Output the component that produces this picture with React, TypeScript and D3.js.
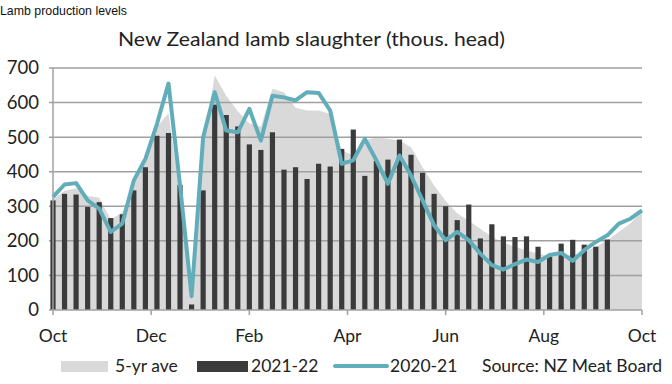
import React, { useEffect, useRef } from "react";
import * as d3 from "d3";

// weekly points, Oct to Oct (52 weeks)
const months = ["Oct", "Dec", "Feb", "Apr", "Jun", "Aug", "Oct"];
const yTicks = [0, 100, 200, 300, 400, 500, 600, 700];

const avg5yr = [
  320, 345, 352, 330, 325, 262, 282, 365, 433, 529, 570, 330, 40, 480, 678, 620,
  575, 540, 530, 640, 630, 585, 577, 577, 567, 462, 447, 490, 500, 495, 490, 471,
  413, 360, 315, 280, 258, 235, 212, 195, 183, 173, 163, 155, 158, 160, 168, 183,
  202, 226, 250, 288,
];

const s2021_22 = [
  317, 336, 334, 298, 312, 266, 277, 346, 413, 504, 512, 362, 16, 346, 594, 564,
  531, 479, 463, 514, 406, 413, 379, 423, 415, 466, 522, 388, 431, 435, 493, 449,
  397, 336, 300, 260, 305, 207, 248, 213, 211, 213, 183, 154, 192, 203, 189, 183,
  204,
];

const s2020_21 = [
  327, 363, 367, 317, 293, 226, 250, 375, 437, 538, 655, 360, 40, 500, 630, 519,
  514, 582, 490, 620, 615, 606, 630, 628, 577, 423, 433, 495, 433, 365, 447, 389,
  317, 245, 202, 226, 202, 163, 130, 117, 133, 146, 139, 159, 165, 142, 173, 197,
  216, 250, 264, 288,
];

const font = "Lato, 'Open Sans', sans-serif";

const App: React.FC = () => {
  const ref = useRef<SVGSVGElement>(null);

  useEffect(() => {
    const width = 672, height = 384;
    const left = 53, right = 642, top = 68, bottom = 310;

    const x = d3.scaleLinear().domain([0, avg5yr.length - 1]).range([left, right]);
    const y = d3.scaleLinear().domain([0, 700]).range([bottom, top]);
    const xm = d3.scalePoint().domain(months.map((m, i) => i + m)).range([left, right]);

    const svg = d3.select(ref.current)
      .attr("width", width)
      .attr("height", height)
      .attr("viewBox", `0 0 ${width} ${height}`);
    svg.selectAll("*").remove();

    svg.append("rect").attr("width", width).attr("height", height).attr("fill", "#fff");

    svg.append("text")
      .attr("x", 0).attr("y", 15)
      .attr("font-family", "'Liberation Sans', Arial, sans-serif")
      .attr("font-size", 13.5)
      .attr("textLength", 127).attr("lengthAdjust", "spacingAndGlyphs")
      .attr("fill", "#111")
      .text("Lamb production levels");

    svg.append("text")
      .attr("x", 118).attr("y", 46)
      .attr("font-family", font)
      .attr("font-size", 20)
      .attr("textLength", 387).attr("lengthAdjust", "spacingAndGlyphs")
      .attr("fill", "#222")
      .text("New Zealand lamb slaughter (thous. head)");

    // 5-yr average area
    const area = d3.area<number>()
      .x((d, i) => x(i))
      .y0(y(0))
      .y1(d => y(d));
    svg.append("path")
      .datum(avg5yr)
      .attr("d", area)
      .attr("fill", "#d9d9d9");

    // gridlines
    svg.append("g")
      .selectAll("line")
      .data(yTicks.filter(t => t > 0))
      .enter().append("line")
      .attr("x1", left - 4).attr("x2", right)
      .attr("y1", d => y(d)).attr("y2", d => y(d))
      .attr("stroke", "#a0a0a0")
      .attr("stroke-width", 1.5);

    // 2021-22 bars
    svg.append("g")
      .selectAll("rect")
      .data(s2021_22)
      .enter().append("rect")
      .attr("x", (d, i) => x(i) - 2.6)
      .attr("width", 5.2)
      .attr("y", d => y(d))
      .attr("height", d => y(0) - y(d))
      .attr("fill", "#3b3b3b");

    // 2020-21 line
    const line = d3.line<number>().x((d, i) => x(i)).y(d => y(d));
    svg.append("path")
      .datum(s2020_21)
      .attr("d", line)
      .attr("fill", "none")
      .attr("stroke", "#62adba")
      .attr("stroke-width", 4)
      .attr("stroke-linejoin", "round");

    // axes
    svg.append("line")
      .attr("x1", left).attr("x2", left).attr("y1", top).attr("y2", bottom)
      .attr("stroke", "#a0a0a0").attr("stroke-width", 1.5);
    svg.append("line")
      .attr("x1", left - 4).attr("x2", right).attr("y1", bottom).attr("y2", bottom)
      .attr("stroke", "#a0a0a0").attr("stroke-width", 1.5);

    svg.append("g")
      .selectAll("line")
      .data(xm.domain())
      .enter().append("line")
      .attr("x1", d => xm(d) || 0).attr("x2", d => xm(d) || 0)
      .attr("y1", bottom).attr("y2", bottom + 5)
      .attr("stroke", "#a0a0a0").attr("stroke-width", 1.5);

    svg.append("g")
      .selectAll("text")
      .data(yTicks)
      .enter().append("text")
      .attr("x", 39)
      .attr("y", d => y(d))
      .attr("dy", "0.35em")
      .attr("text-anchor", "end")
      .attr("font-family", font)
      .attr("font-size", 18.5)
      .attr("fill", "#222")
      .text(d => d);

    svg.append("g")
      .selectAll("text")
      .data(xm.domain())
      .enter().append("text")
      .attr("x", d => xm(d) || 0)
      .attr("y", 336)
      .attr("dy", "0.35em")
      .attr("text-anchor", "middle")
      .attr("font-family", font)
      .attr("font-size", 17.5)
      .attr("fill", "#222")
      .text(d => d.slice(1));

    // legend
    const lg = svg.append("g")
      .attr("font-family", font)
      .attr("font-size", 17.5)
      .attr("fill", "#222");
    lg.append("rect").attr("x", 61).attr("y", 361).attr("width", 47).attr("height", 11).attr("fill", "#d9d9d9");
    lg.append("text").attr("x", 115).attr("y", 366).attr("dy", "0.35em").text("5-yr ave");
    lg.append("rect").attr("x", 197).attr("y", 361).attr("width", 51).attr("height", 11).attr("fill", "#3b3b3b");
    lg.append("text").attr("x", 251).attr("y", 366).attr("dy", "0.35em").text("2021-22");
    lg.append("line").attr("x1", 335).attr("x2", 387).attr("y1", 366).attr("y2", 366)
      .attr("stroke", "#62adba").attr("stroke-width", 4).attr("stroke-linecap", "round");
    lg.append("text").attr("x", 390).attr("y", 366).attr("dy", "0.35em").text("2020-21");
    lg.append("text").attr("x", 482).attr("y", 366).attr("dy", "0.35em").text("Source: NZ Meat Board");
  }, []);

  return (
    <svg ref={ref} style={{ position: "absolute", left: 0, top: 0, display: "block" }}></svg>
  );
};

export default App;
